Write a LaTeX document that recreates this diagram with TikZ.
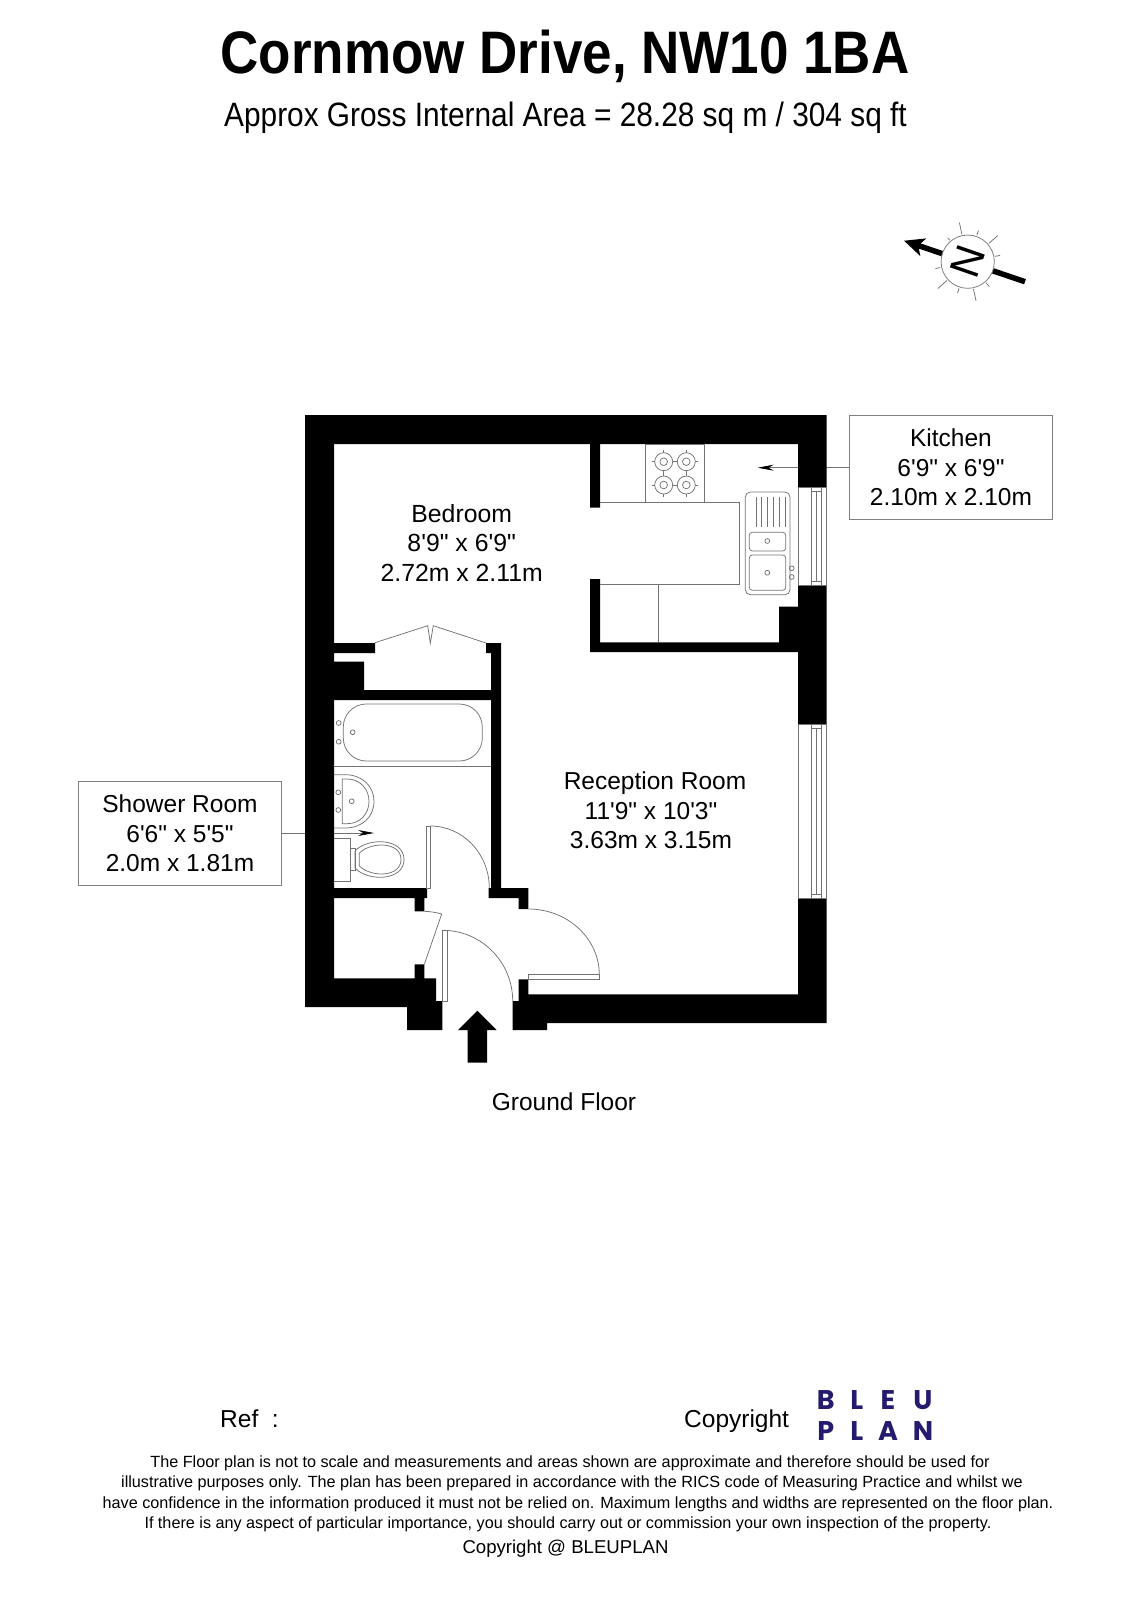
\documentclass[tikz,border=0pt]{standalone}
\usepackage{fontspec}
\usepackage{xcolor}
\setmainfont{Liberation Sans}[Ligatures=TeXOff]
\newfontfamily\titlefont{Liberation Sans}[Ligatures=TeXOff,FakeStretch=0.883]
\newfontfamily\logofont{Poppins}
\usetikzlibrary{arrows.meta}
\definecolor{bleuplan}{HTML}{241A6E}
\tikzset{
    roomtext/.style={font=\fontsize{24.5}{29.5}\selectfont, align=center},
    labelbox/.style={draw=black!50, line width=0.7pt, minimum width=203, minimum height=104, roomtext},
    leader/.style={draw=black!55, line width=0.7pt, -{Stealth[length=16pt,width=6pt,black]}},
    fitting/.style={draw=black!55, line width=0.75pt},
    smallprint/.style={font=\fontsize{16.2}{20}\selectfont},
    logoletter/.style={font=\logofont\bfseries\fontsize{27}{27}\selectfont, text=bleuplan, inner sep=0pt, anchor=center}
}
\begin{document}
\begin{tikzpicture}[x=1pt, y=-1pt]
    \useasboundingbox (0,0) rectangle (1130,1600);

    % Draw title
    \node (title) at (565,56) [font=\titlefont\bfseries\fontsize{60}{60}\selectfont] {Cornmow Drive, NW10 1BA};
    \node (area) at (565.5,117.5) [font=\titlefont\fontsize{33.8}{34}\selectfont] {Approx Gross Internal Area = 28.28 sq m / 304 sq ft};

    % Draw room boxes
    \node (kitchenbox) at (951,467.7) [labelbox] {Kitchen\\6'9" x 6'9"\\2.10m x 2.10m};
    \node (showerbox) at (180,833.5) [labelbox] {Shower Room\\6'6" x 5'5"\\2.0m x 1.81m};
    \coordinate (kitchentip) at (757.7,467.7);
    \coordinate (showertip) at (374,833);
    \draw[leader] (kitchenbox.west |- kitchentip) -- (kitchentip);
    \draw[leader] (showerbox.east |- showertip) -- (showertip);

    % Draw walls
    \fill[black]
        (305,415) -- (826.5,415) -- (826.5,1023) -- (547,1023) -- (547,1030) -- (512.7,1030) -- (512.7,1001) -- (518.7,1001)
        -- (518.7,979.3) -- (528.3,979.3) -- (528.3,994.3) -- (798,994.3) -- (798,652) -- (590,652) -- (590,579) -- (600,579)
        -- (600,642.3) -- (779,642.3) -- (779,606.7) -- (798,606.7) -- (798,444) -- (600,444) -- (600,507.7) -- (590,507.7)
        -- (590,444) -- (334,444) -- (334,643) -- (375,643) -- (375,653) -- (334,653) -- (334,661.7) -- (364,661.7)
        -- (364,690) -- (491,690) -- (491,653) -- (486,653) -- (486,643) -- (501,643) -- (501,888) -- (528.3,888)
        -- (528.3,909) -- (518.7,909) -- (518.7,898) -- (488.7,898) -- (488.7,888) -- (491,888) -- (491,700) -- (334,700)
        -- (334,888) -- (427,888) -- (427,898) -- (424.3,898) -- (424.3,911.3) -- (414.7,911.3) -- (414.7,898) -- (334,898)
        -- (334,978.3) -- (414.7,978.3) -- (414.7,964.3) -- (424.3,964.3) -- (424.3,978.3) -- (436,978.3) -- (436,1001)
        -- (442.3,1001) -- (442.3,1030) -- (407,1030) -- (407,1007) -- (305,1007) -- cycle;

    % Draw windows
    \foreach \wintop/\winbot in {487/585.7, 724/898} {
        \draw[fitting, fill=white] (798,\wintop) rectangle (826.3,\winbot);
        \draw[fitting] (811.7,\wintop) rectangle (821.7,\winbot);
        \draw[fitting] (816.7,\wintop+4) -- (816.7,\winbot-4);
        \draw[fitting] (811.7,\wintop+4) -- (821.7,\wintop+4);
        \draw[fitting] (811.7,\winbot-4) -- (821.7,\winbot-4);
    }

    % Draw kitchen units
    \draw[fitting] (600,502.7) -- (739.3,502.7) -- (739.3,584) -- (600,584);
    \draw[fitting] (658.3,584) -- (658.3,642.3);
    \draw[fitting] (645.7,444) rectangle (704.3,502.7);
    \foreach \hobx/\hoby in {663.7/461.7, 686.3/461.7, 663.7/485, 686.3/485} {
        \draw[fitting] (\hobx,\hoby) circle[radius=9];
        \draw[fitting] (\hobx,\hoby) circle[radius=3.8];
        \foreach \tick in {0,90,180,270}
            \draw[fitting, shift={(\hobx,\hoby)}, rotate=\tick] (9,0) -- (11.6,0);
    }
    \draw[fitting, rounded corners=5pt] (745.3,492) rectangle (790,594.7);
    \foreach \drainx in {756,761.7,767.7,773.3,779.3,785}
        \draw[fitting] (\drainx,496.7) -- (\drainx,527);
    \draw[fitting, rounded corners=3pt] (749.3,532.3) rectangle (785.7,551);
    \draw[fitting, rounded corners=3pt] (749.3,555) rectangle (785.7,590.3);
    \foreach \holex/\holey in {767.3/541, 767.3/572.7, 791.7/568.3, 791.7/577}
        \draw[fitting] (\holex,\holey) circle[radius=2.4];

    % Draw wardrobe doors
    \draw[fitting] (375,642.7) -- (427.7,625.7) -- (430.3,643.3) -- (433.3,625.7) -- (486,643);

    % Draw bathroom fittings
    \draw[fitting] (334,766) -- (491,766);
    \draw[fitting, rounded corners=23pt] (343.3,704) rectangle (482.3,761);
    \foreach \holex/\holey in {338.7/723, 338.7/741.7, 352.7/732.3, 338.3/792.3, 338.3/810, 351.7/801.3}
        \draw[fitting] (\holex,\holey) circle[radius=2.4];
    \draw[fitting] (334,774.7) -- (345,774.7) .. controls (362,774.7) and (374,786) .. (374,801.3)
        .. controls (374,817) and (362,828) .. (345,828) -- (334,828);
    \draw[fitting] (342.3,779) -- (347,779) .. controls (360,779) and (369,789) .. (369,801.3)
        .. controls (369,814) and (360,823.7) .. (347,823.7) -- (342.3,823.7) -- cycle;
    \draw[fitting] (334,838) -- (350.7,838) -- (350.7,881.3) -- (334,881.3);
    \draw[fitting] (350.7,848.3) -- (355,848.3) -- (355,870.7) -- (350.7,870.7);
    \draw[fitting] (355,851) .. controls (368,837) and (404,838) .. (404,859.5)
        .. controls (404,881) and (368,882) .. (355,868) -- cycle;
    \draw[fitting] (359.3,853) .. controls (372,841) and (401,842) .. (401,859.5)
        .. controls (401,877) and (372,878) .. (359.3,866) -- cycle;

    % Draw doors
    \draw[fitting] (426.7,826) rectangle (430.3,888.3);
    \draw[fitting] (430.3,826) arc[start angle=-90, end angle=0, x radius=59, y radius=62];
    \draw[fitting] (424.3,911.3) .. controls (430,911.5) and (436,912.3) .. (441.7,914) -- (424.3,964.3);
    \draw[fitting] (442.7,930.3) rectangle (447,1001);
    \draw[fitting] (442.7,930.3) arc[start angle=-90, end angle=0, x radius=70, y radius=70.7];
    \draw[fitting] (528.3,974.7) rectangle (599.3,979.3);
    \draw[fitting] (528.3,909) arc[start angle=-90, end angle=0, x radius=71, y radius=65.7];

    % Draw entrance arrow
    \fill[black] (477.3,1010.7) -- (496.7,1030) -- (487,1030) -- (487,1062.7) -- (467.7,1062.7) -- (467.7,1030) -- (458,1030) -- cycle;

    % Draw compass
    \coordinate (compasstail) at (1025,281.7);
    \coordinate (compasstip) at (904,240.7);
    \draw[line width=5.5pt, -{Stealth[length=20pt,width=18pt,inset=5pt]}] (compasstail) -- (compasstip);
    \foreach \rayang/\raylen in {11/33, 41/40, 71/33, 102/40, 130/31, 192/33, 222/40, 252/33, 282/40, 311/33}
        \draw[fitting] (967.7,261.7) ++({-\rayang}:28) -- ++({-\rayang}:{\raylen-28});
    \node (north) at (967.7,261.7) [circle, draw=black!50, fill=white, line width=0.8pt, minimum size=52, inner sep=0pt,
        font=\fontsize{42}{42}\selectfont] {\rotatebox{71}{N}};

    % Draw room labels
    \node (bedroom) at (461.7,543) [font=\fontsize{24.8}{29.5}\selectfont, align=center] {Bedroom\\8'9" x 6'9"\\2.72m x 2.11m};
    \node (reception) at (651,810.5) [roomtext] {\hspace*{8pt}Reception Room\\11'9" x 10'3"\\3.63m x 3.15m};
    \node (groundfloor) at (564,1101.5) [roomtext] {Ground Floor};

    % Draw footer
    \node (ref) at (220,1427) [anchor=base west, inner sep=0pt, roomtext] {Ref\ \ :};
    \node (copyright) at (684,1427) [anchor=base west, inner sep=0pt, roomtext] {Copyright};
    \foreach \letter/\letterx/\lettery in {B/825.7/1399.7, L/856.7/1399.7, E/888/1399.7, U/923/1399.7, P/825.7/1431, L/856.7/1431, A/888/1431, N/923/1431}
        \node (logo\letter\lettery) at (\letterx,\lettery) [logoletter] {\letter};
    \node (terms1) at (570,1463) [smallprint] {The Floor plan is not to scale and measurements and areas shown are approximate and therefore should be used for};
    \node (terms2) at (572,1483) [smallprint] {illustrative purposes only. The plan has been prepared in accordance with the RICS code of Measuring Practice and whilst we};
    \node (terms3) at (578,1504) [smallprint] {have confidence in the information produced it must not be relied on. Maximum lengths and widths are represented on the floor plan.};
    \node (terms4) at (568,1524) [smallprint] {If there is any aspect of particular importance, you should carry out or commission your own inspection of the property.};
    \node (terms5) at (565.5,1549) [font=\fontsize{18.6}{24}\selectfont] {Copyright @ BLEUPLAN};
\end{tikzpicture}
\end{document}
